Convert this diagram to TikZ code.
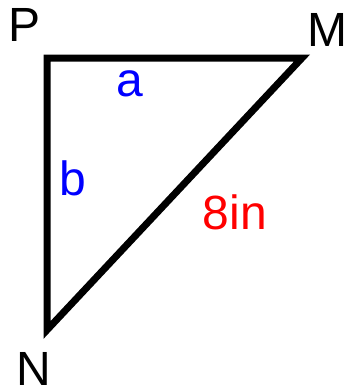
\documentclass[tikz,border=0pt]{standalone}
\usepackage{fontspec}
\setmainfont{Liberation Sans}
\begin{document}
\begin{tikzpicture}[x=1pt,y=-1pt,
  lbl/.style={inner sep=0pt,anchor=center,font=\fontsize{48}{48}\selectfont},
  side/.style={line width=7pt,line join=miter,black}]
\useasboundingbox (0,0) rectangle (344,392);
\coordinate (P) at (47,58);
\coordinate (M) at (302,58);
\coordinate (N) at (47,330);
\draw[side] (P) -- (M) -- (N) -- cycle;
\node[lbl] (lP) at (25,25) {P};
\node[lbl] (lM) at (327,30) {M};
\node[lbl] (lN) at (34,369) {N};
\node[lbl,text=blue] (la) at (130,84) {a};
\node[lbl,text=blue] (lb) at (73,178) {b};
\node[lbl,text=red] (l8) at (235,212) {8in};
\end{tikzpicture}
\end{document}
